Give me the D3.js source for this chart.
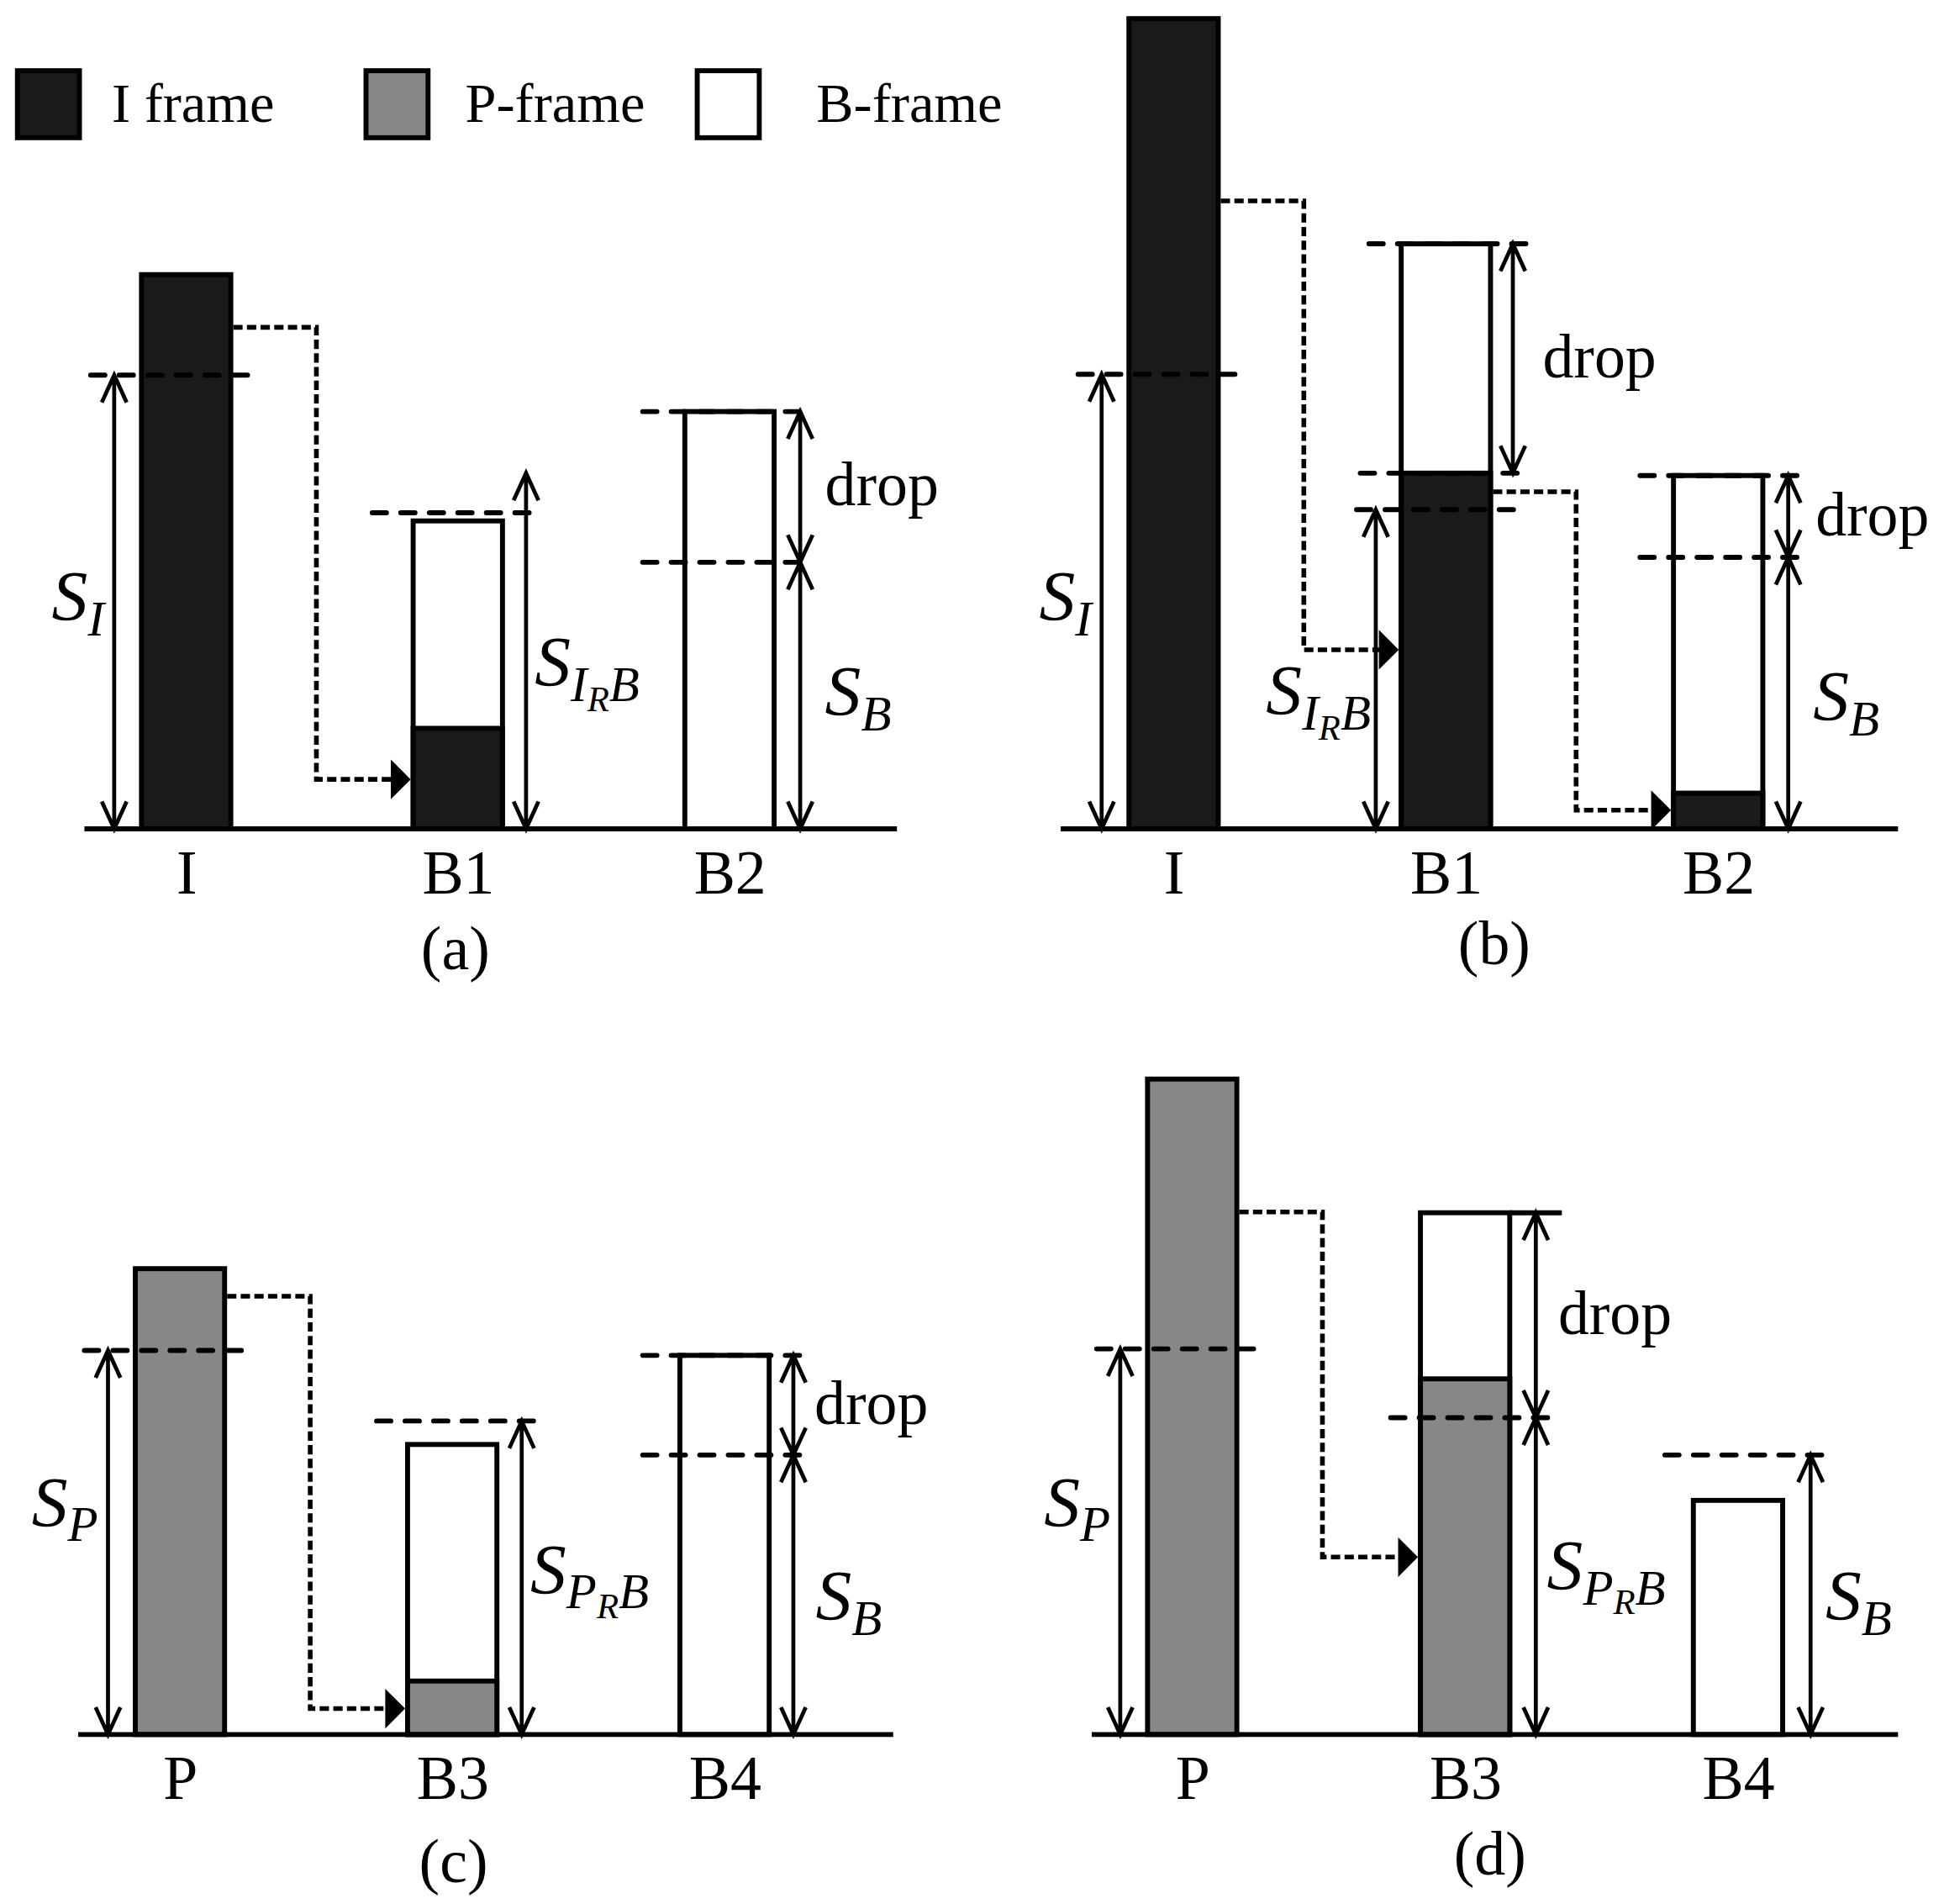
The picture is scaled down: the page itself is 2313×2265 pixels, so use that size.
<!DOCTYPE html>
<html>
<head>
<meta charset="utf-8">
<script src="https://cdn.jsdelivr.net/npm/d3@7"></script>
<style>
  html, body { margin: 0; padding: 0; background: #fff; }
  svg { display: block; }
</style>
</head>
<body>
<div id="chart"></div>
<script>
// Panel tags and the frames shown in each panel
const panelTags = ["(a)", "(b)", "(c)", "(d)"];
const frameNames = [["I", "B1", "B2"], ["I", "B1", "B2"], ["P", "B3", "B4"], ["P", "B3", "B4"]];
const refKind = ["I", "I", "P", "P"];

// Legend
const legendKinds = ["I", "P", "B"];
const legendLabels = ["I frame", "P-frame", "B-frame"];

// Frame sizes (relative units, tallest I frame = 100)
const frameSize = [[68.4, 38.0, 51.5], [100, 72.2, 43.6], [57.5, 35.8, 46.8], [80.9, 64.4, 28.9]];
// Part of a B frame filled with reference-frame data
const refillSize = [[0, 12.4, 0], [0, 43.9, 4.4], [0, 6.6, 0], [0, 43.9, 0]];

// Budgets: S_I / S_P, S_IRB / S_PRB, S_B
const refBudget = [56.0, 56.1, 47.4, 47.6];
const rbBudget = [39.0, 39.4, 38.7, 39.1];
const bBudget = [32.9, 33.5, 34.5, 34.5];
const rbArrowTop = [43.9, 39.4, 38.7, 39.1];

// Dotted hand-over links: level leaving the source frame, level entering the target
const linkFrom = [[61.9], [77.5, 41.6], [54.1], [64.5]];
const linkTo = [[6.1], [22.1, 2.3], [3.2], [21.9]];

// ---- layout ----
const VW = 1567, VH = 1534.6;
const FONT = "'Liberation Serif', 'Times New Roman', serif";
const fillOf = { I: "#1a1a1a", P: "#878787", B: "#ffffff" };
const BW = 72;
const layout = [
  { cx0: 150, cx1: 588, base: 668, axL: -82, axR: 135, tagDx: -2, tagDy: 113 },
  { cx0: 946, cx1: 1385, base: 668, axL: -91, axR: 145, tagDx: 39, tagDy: 109 },
  { cx0: 145, cx1: 584, base: 1398, axL: -82, axR: 136, tagDx: 1, tagDy: 119 },
  { cx0: 961, cx1: 1401, base: 1398, axL: -81, axR: 129, tagDx: 20, tagDy: 113 }
];

const svg = d3.select("#chart").append("svg")
  .attr("width", 2313)
  .attr("height", 2265)
  .attr("viewBox", `0 0 ${VW} ${VH}`);

svg.append("rect").attr("width", VW).attr("height", VH).attr("fill", "#fff");

// Legend
const legendX = [14, 295, 562];
const legendTextX = [90, 375, 658];
legendKinds.forEach((k, i) => {
  svg.append("rect")
    .attr("x", legendX[i]).attr("y", 57)
    .attr("width", 50).attr("height", 54)
    .attr("fill", fillOf[k]).attr("stroke", "#000").attr("stroke-width", 4);
  svg.append("text")
    .attr("x", legendTextX[i]).attr("y", 98)
    .attr("font-family", FONT).attr("font-size", 45)
    .text(legendLabels[i]);
});

// helpers
function dashLine(P, f, v, l, r) {
  const c = P.cx(f);
  P.g.append("line")
    .attr("x1", c + l).attr("x2", c + r)
    .attr("y1", P.y(v)).attr("y2", P.y(v))
    .attr("stroke", "#000").attr("stroke-width", 4)
    .attr("stroke-dasharray", "11.5 11.5").attr("stroke-linecap", "round");
}

function dimArrow(P, f, dx, v0, v1) {
  const x = P.cx(f) + dx;
  const ya = P.y(v0), yb = P.y(v1);
  const head = (pt, other) => {
    const s = pt < other ? 1 : -1;
    return `M${x - 10},${pt + s * 22}L${x},${pt}L${x + 10},${pt + s * 22}`;
  };
  P.g.append("path")
    .attr("d", `M${x},${ya}V${yb}` + head(ya, yb) + head(yb, ya))
    .attr("fill", "none").attr("stroke", "#000").attr("stroke-width", 3.2);
  return x;
}

// parts: [text, level] level 0 = main, 1 = subscript, 2 = sub-subscript
function mathLabel(P, x, yb, anchor, parts) {
  const off = [0, 12, 20], size = [58, 40, 29];
  const t = P.g.append("text")
    .attr("x", x).attr("y", yb)
    .attr("text-anchor", anchor)
    .attr("font-family", FONT).attr("font-style", "italic");
  let prev = 0;
  parts.forEach(([s, lv]) => {
    t.append("tspan")
      .attr("dy", off[lv] - prev)
      .attr("font-size", size[lv])
      .text(s);
    prev = off[lv];
  });
}

function dropLabel(P, x, v0, v1) {
  P.g.append("text")
    .attr("x", x + 20).attr("y", P.y((v0 + v1) / 2) + 15)
    .attr("font-family", FONT).attr("font-size", 50)
    .text("drop");
}

function link(P, k, fromF, toF) {
  const x0 = P.cx(fromF) + BW / 2 + 2;
  const xm = P.cx(fromF) + 105;
  const xt = P.cx(toF) - BW / 2 - 2;
  const yh = P.y(linkFrom[P.p][k]), yl = P.y(linkTo[P.p][k]);
  P.g.append("path")
    .attr("d", `M${x0},${yh}H${xm}V${yl}H${xt - 15}`)
    .attr("fill", "none").attr("stroke", "#000").attr("stroke-width", 3.8)
    .attr("stroke-dasharray", "7.5 3.5");
  P.g.append("path")
    .attr("d", `M${xt},${yl}L${xt - 16},${yl - 16}L${xt - 16},${yl + 16}Z`)
    .attr("fill", "#000");
}

// Build panels
const panels = layout.map((L, p) => {
  const names = frameNames[p];
  const x = d3.scalePoint().domain(names).range([L.cx0, L.cx1]);
  const y = d3.scaleLinear().domain([0, 100]).range([L.base, L.base - 653]);
  const g = svg.append("g");
  const P = { p, g, x, y, names, cx: f => x(names[f]) };

  // frames
  g.selectAll("rect.frame")
    .data(frameSize[p])
    .join("rect")
    .attr("class", "frame")
    .attr("x", (d, i) => P.cx(i) - BW / 2)
    .attr("y", d => y(d))
    .attr("width", BW)
    .attr("height", d => y(0) - y(d))
    .attr("fill", (d, i) => i === 0 ? fillOf[refKind[p]] : fillOf.B)
    .attr("stroke", "#000").attr("stroke-width", 4);

  // refilled parts
  g.selectAll("rect.refill")
    .data(refillSize[p].map((v, i) => ({ v, i })).filter(d => d.v > 0))
    .join("rect")
    .attr("class", "refill")
    .attr("x", d => P.cx(d.i) - BW / 2)
    .attr("y", d => y(d.v))
    .attr("width", BW)
    .attr("height", d => y(0) - y(d.v))
    .attr("fill", fillOf[refKind[p]])
    .attr("stroke", "#000").attr("stroke-width", 4);

  // baseline
  g.append("line")
    .attr("x1", L.cx0 + L.axL).attr("x2", L.cx1 + L.axR)
    .attr("y1", y(0)).attr("y2", y(0))
    .attr("stroke", "#000").attr("stroke-width", 4);

  // category labels
  const ax = g.append("g")
    .attr("transform", `translate(0,${y(0)})`)
    .call(d3.axisBottom(x).tickSize(0).tickPadding(16.5));
  ax.select(".domain").remove();
  ax.selectAll("text")
    .attr("font-family", FONT).attr("font-size", 50).attr("fill", "#000");

  // panel tag
  g.append("text")
    .attr("x", P.cx(1) + L.tagDx).attr("y", L.base + L.tagDy)
    .attr("text-anchor", "middle")
    .attr("font-family", FONT).attr("font-size", 50)
    .text(panelTags[p]);

  // reference frame budget
  dashLine(P, 0, refBudget[p], -77, 56);
  const ax0 = dimArrow(P, 0, -58, 0, refBudget[p]);
  mathLabel(P, ax0 - 8, y(25.7), "end", [["S", 0], [refKind[p], 1]]);
  return P;
});

const rbParts = p => [["S", 0], [refKind[p], 1], ["R", 2], ["B", 1]];
const sbParts = [["S", 0], ["B", 1]];

// (a)
(function () {
  const P = panels[0], p = 0;
  link(P, 0, 0, 1);
  dashLine(P, 1, rbBudget[p], -69, 66);
  const xa = dimArrow(P, 1, 55, 0, rbArrowTop[p]);
  mathLabel(P, xa + 7, P.y(17.6), "start", rbParts(p));
  dashLine(P, 2, frameSize[p][2], -70, 67);
  dashLine(P, 2, bBudget[p], -70, 67);
  const xb = dimArrow(P, 2, 57, bBudget[p], frameSize[p][2]);
  dimArrow(P, 2, 57, 0, bBudget[p]);
  dropLabel(P, xb, bBudget[p], frameSize[p][2]);
  mathLabel(P, xb + 20, P.y(14), "start", sbParts);
})();

// (b)
(function () {
  const P = panels[1], p = 1;
  link(P, 0, 0, 1);
  dashLine(P, 1, frameSize[p][1], -62, 69);
  dashLine(P, 1, refillSize[p][1], -69, 62);
  dashLine(P, 1, rbBudget[p], -72, 57);
  const xd = dimArrow(P, 1, 54, refillSize[p][1], frameSize[p][1]);
  dropLabel(P, xd + 4, refillSize[p][1], frameSize[p][1]);
  const xl = dimArrow(P, 1, -56.5, 0, rbBudget[p]);
  mathLabel(P, xl - 4, P.y(14.1), "end", rbParts(p));
  link(P, 1, 1, 2);
  dashLine(P, 2, frameSize[p][2], -63, 65);
  dashLine(P, 2, bBudget[p], -63, 65);
  const xb = dimArrow(P, 2, 56.5, bBudget[p], frameSize[p][2]);
  dimArrow(P, 2, 56.5, 0, bBudget[p]);
  dropLabel(P, xb + 2, bBudget[p], frameSize[p][2]);
  mathLabel(P, xb + 20, P.y(13.4), "start", sbParts);
})();

// (c)
(function () {
  const P = panels[2], p = 2;
  link(P, 0, 0, 1);
  dashLine(P, 1, rbBudget[p], -61, 71);
  const xa = dimArrow(P, 1, 56, 0, rbArrowTop[p]);
  mathLabel(P, xa + 7, P.y(17.4), "start", rbParts(p));
  dashLine(P, 2, frameSize[p][2], -66, 66);
  dashLine(P, 2, bBudget[p], -66, 66);
  const xb = dimArrow(P, 2, 55.5, bBudget[p], frameSize[p][2]);
  dimArrow(P, 2, 55.5, 0, bBudget[p]);
  dropLabel(P, xb - 3, bBudget[p], frameSize[p][2]);
  mathLabel(P, xb + 18, P.y(14.1), "start", sbParts);
})();

// (d)
(function () {
  const P = panels[3], p = 3;
  link(P, 0, 0, 1);
  P.g.append("line")
    .attr("x1", P.cx(1) + BW / 2).attr("x2", P.cx(1) + 78)
    .attr("y1", P.y(frameSize[p][1])).attr("y2", P.y(frameSize[p][1]))
    .attr("stroke", "#000").attr("stroke-width", 4);
  dashLine(P, 1, rbBudget[p], -60, 70);
  const xa = dimArrow(P, 1, 57, rbBudget[p], frameSize[p][1]);
  dimArrow(P, 1, 57, 0, rbBudget[p]);
  dropLabel(P, xa - 2, rbBudget[p], frameSize[p][1]);
  mathLabel(P, xa + 9, P.y(17.9), "start", rbParts(p));
  dashLine(P, 2, bBudget[p], -59, 74);
  const xb = dimArrow(P, 2, 58.5, 0, bBudget[p]);
  mathLabel(P, xb + 12, P.y(14.1), "start", sbParts);
})();
</script>
</body>
</html>
